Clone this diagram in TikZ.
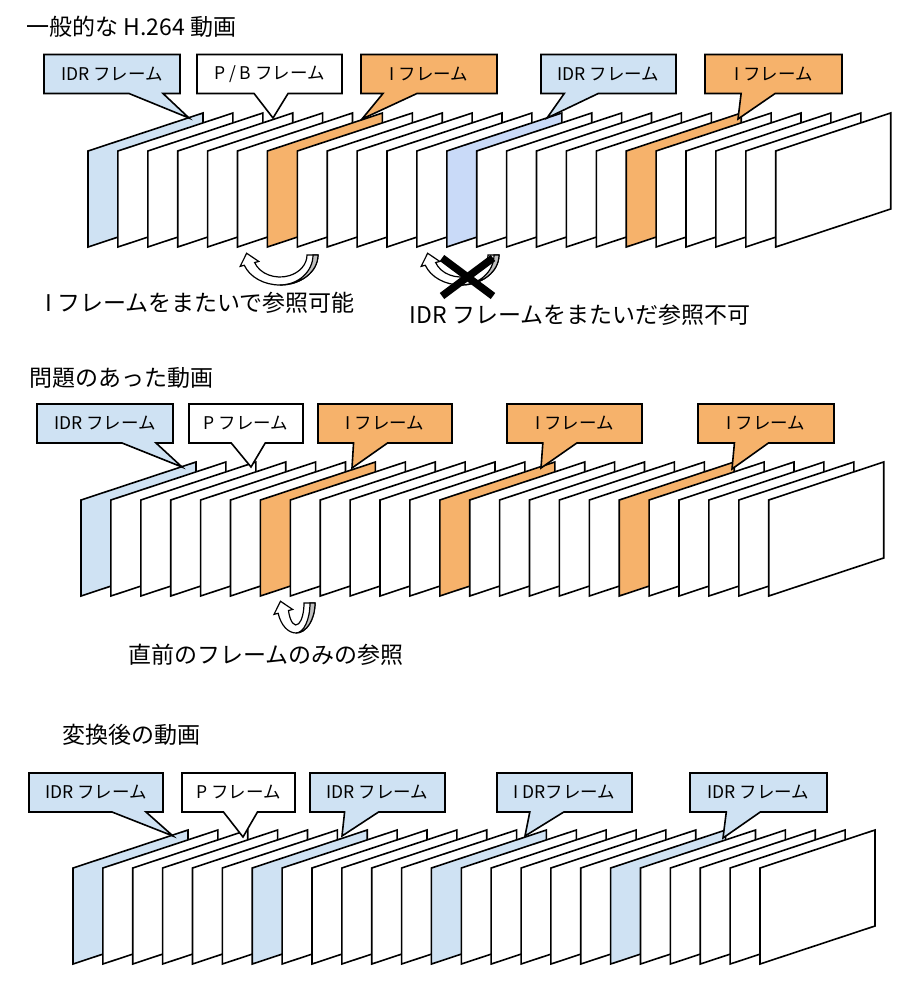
\documentclass[tikz,border=0pt]{standalone}
\usepackage{fontspec}
\setmainfont{Noto Sans CJK JP}
\usetikzlibrary{shapes.callouts,calc}

\definecolor{idrblue}{RGB}{207,226,243}
\definecolor{idrblueb}{RGB}{201,218,248}
\definecolor{iorange}{RGB}{246,178,107}
\definecolor{ribbongray}{RGB}{192,192,192}

\tikzset{
  frame/.style={draw=black, line width=1.6pt, line join=miter},
  tag/.style={rectangle callout, draw=black, line width=1.6pt, inner sep=0pt,
    minimum height=39pt, callout pointer width=34pt,
    font=\fontsize{17.5}{17.5}\selectfont},
  heading/.style={anchor=west, font=\fontsize{23}{23}\selectfont},
  note/.style={font=\fontsize{23}{23}\selectfont},
  ribbon/.style={draw=black, line width=1.2pt, line join=miter},
}

% u-turn ribbon arrow: centre x, centre y, x radius, y radius
\newcommand{\uturn}[4]{%
  \begin{scope}[shift={(#1,#2)}]
    \coordinate (uo) at ({#3*cos(160)},{#4*sin(160)});
    \coordinate (ui) at ({(#3-11)*cos(160)},{(#4-8)*sin(160)});
    \coordinate (um) at ($(uo)!0.5!(ui)$);
    \filldraw[ribbon, fill=white] (#3,0)
      arc[start angle=0, end angle=160, x radius=#3, y radius=#4]
      -- ($(uo)!-0.4!(ui)$) -- ($(um)!11pt!90:(ui)$) -- ($(ui)!-0.4!(uo)$) -- (ui)
      arc[start angle=160, end angle=0, x radius=#3-11, y radius=#4-8] -- cycle;
    \filldraw[ribbon, fill=ribbongray] (#3,0)
      arc[start angle=0, end angle=90, x radius=#3, y radius=#4]
      arc[start angle=90, end angle=0, x radius=#3-5, y radius=#4] -- cycle;
  \end{scope}}

\begin{document}
\begin{tikzpicture}[x=1pt,y=-1pt]
\useasboundingbox (0,0) rectangle (920,1002);

%--------------------------------------------------------
% 一般的な H.264 動画
\node[heading] (h1) at (23,27) {一般的な H.264 動画};

\foreach \i in {0,...,23}{
  \pgfmathsetmacro\fx{88+29.9*\i}
  \def\fc{white}
  \ifnum\i=0 \def\fc{idrblue}\fi
  \ifnum\i=6 \def\fc{iorange}\fi
  \ifnum\i=12 \def\fc{idrblueb}\fi
  \ifnum\i=18 \def\fc{iorange}\fi
  \filldraw[frame, fill=\fc] (\fx,247) -- ++(0,-96) -- ++(115,-38) -- ++(0,96) -- cycle;
}

\coordinate (p1a) at (189,118);
\coordinate (p1b) at (273,118);
\coordinate (p1c) at (362,119);
\coordinate (p1d) at (547,118);
\coordinate (p1e) at (738,119);
\node[tag, fill=idrblue, minimum width=136pt, callout absolute pointer={(p1a)}] (c1a) at (112,74) {IDR フレーム};
\node[tag, fill=white, minimum width=145pt, callout absolute pointer={(p1b)}] (c1b) at (269.5,74) {P / B フレーム};
\node[tag, fill=iorange, minimum width=136pt, callout absolute pointer={(p1c)}] (c1c) at (429,74) {I フレーム};
\node[tag, fill=idrblue, minimum width=135pt, callout absolute pointer={(p1d)}] (c1d) at (608.5,74) {IDR フレーム};
\node[tag, fill=iorange, minimum width=137pt, callout absolute pointer={(p1e)}] (c1e) at (773.5,74) {I フレーム};

\uturn{280}{255}{38}{30}
\uturn{461}{255}{38}{30}
\draw[line width=7.5pt] (442,258) -- (493,296);
\draw[line width=7.5pt] (493,258) -- (442,296);

\node[note] (n1a) at (200,303) {I フレームをまたいで参照可能};
\node[note] (n1b) at (580,315) {IDR フレームをまたいだ参照不可};

%--------------------------------------------------------
% 問題のあった動画
\node[heading] (h2) at (26,378) {問題のあった動画};

\foreach \i in {0,...,23}{
  \pgfmathsetmacro\fx{81+29.9*\i}
  \def\fc{white}
  \ifnum\i=0 \def\fc{idrblue}\fi
  \ifnum\i=6 \def\fc{iorange}\fi
  \ifnum\i=12 \def\fc{iorange}\fi
  \ifnum\i=18 \def\fc{iorange}\fi
  \filldraw[frame, fill=\fc] (\fx,596) -- ++(0,-96) -- ++(115,-38) -- ++(0,96) -- cycle;
}

\coordinate (p2a) at (182,467);
\coordinate (p2b) at (251,467);
\coordinate (p2c) at (352,468);
\coordinate (p2d) at (541,468);
\coordinate (p2e) at (732,469);
\node[tag, fill=idrblue, minimum width=136pt, callout absolute pointer={(p2a)}] (c2a) at (105,423.5) {IDR フレーム};
\node[tag, fill=white, minimum width=114pt, callout absolute pointer={(p2b)}] (c2b) at (246,423.5) {P フレーム};
\node[tag, fill=iorange, minimum width=134pt, callout absolute pointer={(p2c)}] (c2c) at (385,423.5) {I フレーム};
\node[tag, fill=iorange, minimum width=135pt, callout absolute pointer={(p2d)}] (c2d) at (574.5,423.5) {I フレーム};
\node[tag, fill=iorange, minimum width=136pt, callout absolute pointer={(p2e)}] (c2e) at (766,423.5) {I フレーム};

\uturn{296}{603}{19}{30}

\node[note] (n2) at (266,655) {直前のフレームのみの参照};

%--------------------------------------------------------
% 変換後の動画
\node[heading] (h3) at (59,735) {変換後の動画};

\foreach \i in {0,...,23}{
  \pgfmathsetmacro\fx{73+29.87*\i}
  \def\fc{white}
  \ifnum\i=0 \def\fc{idrblue}\fi
  \ifnum\i=6 \def\fc{idrblue}\fi
  \ifnum\i=12 \def\fc{idrblue}\fi
  \ifnum\i=18 \def\fc{idrblue}\fi
  \filldraw[frame, fill=\fc] (\fx,964) -- ++(0,-96) -- ++(115,-38) -- ++(0,96) -- cycle;
}

\coordinate (p3a) at (173,836);
\coordinate (p3b) at (243,837);
\coordinate (p3c) at (342,836);
\coordinate (p3d) at (525,836);
\coordinate (p3e) at (723,838);
\node[tag, fill=idrblue, minimum width=134pt, callout absolute pointer={(p3a)}] (c3a) at (96,792.5) {IDR フレーム};
\node[tag, fill=white, minimum width=113pt, callout absolute pointer={(p3b)}] (c3b) at (238.5,792.5) {P フレーム};
\node[tag, fill=idrblue, minimum width=135pt, callout absolute pointer={(p3c)}] (c3c) at (377.5,792.5) {IDR フレーム};
\node[tag, fill=idrblue, minimum width=135pt, callout absolute pointer={(p3d)}] (c3d) at (564.5,792.5) {I DRフレーム};
\node[tag, fill=idrblue, minimum width=137pt, callout absolute pointer={(p3e)}] (c3e) at (758.5,792.5) {IDR フレーム};
\end{tikzpicture}
\end{document}
